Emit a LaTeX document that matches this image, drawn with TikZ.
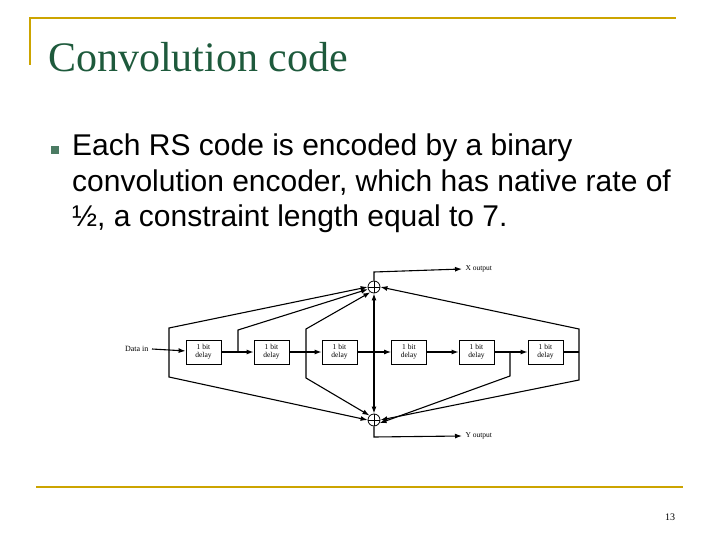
\documentclass[tikz,border=0pt]{standalone}
\usepackage{fontspec}
\setmainfont{Liberation Serif}
\newfontfamily\sans{Liberation Sans}
\usetikzlibrary{arrows.meta}
\definecolor{gold}{RGB}{204,164,0}
\definecolor{ttl}{RGB}{30,90,60}
\begin{document}
\begin{tikzpicture}[x=1pt,y=-1pt,
  box/.style={draw,thick,minimum width=35pt,minimum height=24pt,inner sep=0pt,align=center,font=\fontsize{7.5}{8}\selectfont,fill=white},
  xr/.style={draw,thick,circle,minimum size=12pt,inner sep=0pt,fill=white},
  ar/.style={-{Latex[length=7pt,width=5pt]}},
  ln/.style={line width=1.1pt}]
\useasboundingbox (0,0) rectangle (720,540);
\draw[gold,line width=1.5pt] (30,65) -- (30,18) -- (676,18);
\draw[gold,line width=1.5pt] (36,487) -- (683,487);
\node[anchor=west,text=ttl,font=\fontsize{42}{42}\selectfont,inner sep=0pt] (title) at (48,57) {Convolution code};
\node[fill=ttl!80,minimum size=8pt,inner sep=0pt] (bul) at (55,150) {};
\node[anchor=north west,align=left,font=\sans\fontsize{30}{35.5}\selectfont,inner sep=0pt] (txt) at (72,134)
 {Each RS code is encoded by a binary\\convolution encoder, which has native rate of\\½, a constraint length equal to 7.};
\node[font=\fontsize{10}{10}\selectfont] (pg) at (670,517) {13};
% diagram
\node[box] (b1) at (203.5,352) {1 bit\\delay};
\node[box] (b2) at (271.5,352) {1 bit\\delay};
\node[box] (b3) at (339.5,352) {1 bit\\delay};
\node[box] (b4) at (409,352) {1 bit\\delay};
\node[box] (b5) at (476.5,352) {1 bit\\delay};
\node[box] (b6) at (545.5,352) {1 bit\\delay};
\node[xr] (xa) at (374,287) {};
\node[xr] (xb) at (374,420) {};
\draw (xa.north)--(xa.south) (xa.west)--(xa.east);
\draw (xb.north)--(xb.south) (xb.west)--(xb.east);
\node[anchor=east,font=\fontsize{8}{8}\selectfont] (din) at (152,349) {Data in};
\node[anchor=west,font=\fontsize{7.5}{8}\selectfont] (xo) at (462,269) {X output};
\node[anchor=west,font=\fontsize{7.5}{8}\selectfont] (yo) at (462,436) {Y output};
\coordinate (t1) at (169,352); \coordinate (t2) at (238,352); \coordinate (t3) at (306,352);
\coordinate (t4) at (374,352); \coordinate (t5) at (510,352); \coordinate (t6) at (579,352);
\coordinate (xt) at (374,272); \coordinate (yt) at (374,437);
\draw[ln,ar] (din.east) -- (b1);
\draw[ln,ar] (b1) -- (b2);
\draw[ln,ar] (b2) -- (b3);
\draw[ln,ar] (b3) -- (b4);
\draw[ln,ar] (b4) -- (b5);
\draw[ln,ar] (b5) -- (b6);
\draw[ln] (b6.east) -- (t6);
\draw[ln,ar] (xa.north) -- (xt) -- (xo.west);
\draw[ln,ar] (xb.south) -- (yt) -- (yo.west);
\draw[line width=1.8pt,ar] (t4) -- (xa.south);
\draw[line width=1.8pt,ar] (t4) -- (xb.north);
\draw[ln,ar] (t1) -- (169,328) -- (xa.west);
\draw[ln,ar] (t1) -- (169,377) -- (xb.west);
\draw[ln,ar] (t2) -- (238,330) -- (xa.200);
\draw[ln,ar] (t3) -- (306,329) -- (xa.235);
\draw[ln,ar] (t3) -- (306,378) -- (xb.135);
\draw[ln,ar] (t5) -- (510,376) -- (xb.330);
\draw[ln,ar] (t6) -- (579,329) -- (xa.east);
\draw[ln,ar] (t6) -- (579,380) -- (xb.east);
\end{tikzpicture}
\end{document}
